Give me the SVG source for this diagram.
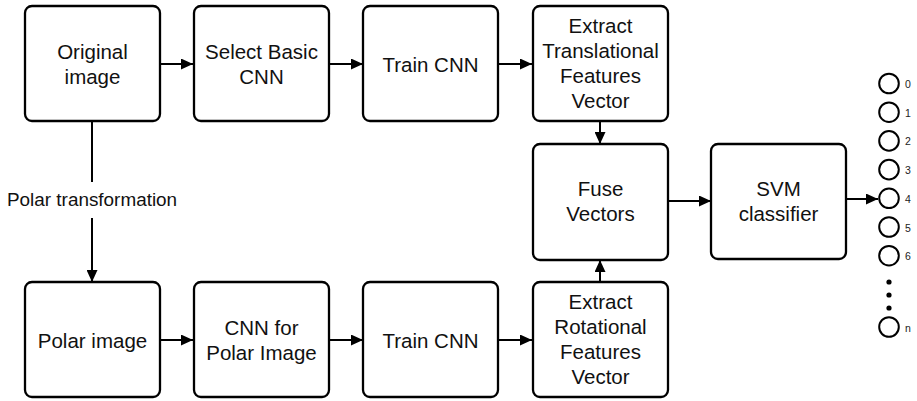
<svg xmlns="http://www.w3.org/2000/svg" width="917" height="401" viewBox="0 0 917 401">
<defs>
<marker id="ah" viewBox="0 0 12 11" refX="12" refY="5.5" markerWidth="12" markerHeight="11" markerUnits="userSpaceOnUse" orient="auto">
<path d="M0,0 L12,5.5 L0,11 Z" fill="#000"/>
</marker>
<style>
.box{fill:#fff;stroke:#000;stroke-width:2.3}
.t{font-family:"Liberation Sans",Arial,Helvetica,sans-serif;font-size:20.5px;fill:#111;text-anchor:middle}
.lbl{font-family:"Liberation Sans",Arial,Helvetica,sans-serif;font-size:18.9px;fill:#111}
.num{font-family:"Liberation Sans",Arial,Helvetica,sans-serif;font-size:10.5px;fill:#222}
.c{fill:#fff;stroke:#000;stroke-width:2}
.ln{stroke:#000;stroke-width:2;fill:none}
</style>
</defs>
<rect width="917" height="401" fill="#fff"/>
<g id="connectors">
<line class="ln" x1="160" y1="64" x2="193" y2="64" marker-end="url(#ah)"/>
<line class="ln" x1="329" y1="64" x2="363" y2="64" marker-end="url(#ah)"/>
<line class="ln" x1="498" y1="64" x2="532" y2="64" marker-end="url(#ah)"/>
<line class="ln" x1="160" y1="340" x2="193" y2="340" marker-end="url(#ah)"/>
<line class="ln" x1="329" y1="340" x2="363" y2="340" marker-end="url(#ah)"/>
<line class="ln" x1="498" y1="340" x2="532" y2="340" marker-end="url(#ah)"/>
<line class="ln" x1="600" y1="121" x2="600" y2="144" marker-end="url(#ah)"/>
<line class="ln" x1="600" y1="282" x2="600" y2="260" marker-end="url(#ah)"/>
<line class="ln" x1="668" y1="201" x2="711" y2="201" marker-end="url(#ah)"/>
<line class="ln" x1="846" y1="199" x2="878" y2="199" marker-end="url(#ah)"/>
<line class="ln" x1="92" y1="121" x2="92" y2="182"/>
<line class="ln" x1="92" y1="218" x2="92" y2="282" marker-end="url(#ah)"/>
<text class="lbl" x="7" y="206">Polar transformation</text>
</g>
<g id="original">
<rect class="box" x="25" y="6" width="135" height="115" rx="7"/>
<text class="t" x="92.5" y="59">Original</text>
<text class="t" x="92.5" y="84">image</text>
</g>
<g id="select">
<rect class="box" x="194" y="6" width="135" height="115" rx="7"/>
<text class="t" x="261.5" y="59">Select Basic</text>
<text class="t" x="261.5" y="84">CNN</text>
</g>
<g id="train1">
<rect class="box" x="363" y="6" width="135" height="115" rx="7"/>
<text class="t" x="430.5" y="71.5">Train CNN</text>
</g>
<g id="extractT">
<rect class="box" x="533" y="6" width="135" height="115" rx="7"/>
<text class="t" x="600.5" y="33">Extract</text>
<text class="t" x="600.5" y="58">Translational</text>
<text class="t" x="600.5" y="83">Features</text>
<text class="t" x="600.5" y="108">Vector</text>
</g>
<g id="fuse">
<rect class="box" x="533" y="144" width="135" height="116" rx="7"/>
<text class="t" x="600.5" y="196">Fuse</text>
<text class="t" x="600.5" y="221">Vectors</text>
</g>
<g id="svm">
<rect class="box" x="711" y="144" width="135" height="115" rx="7"/>
<text class="t" x="778.5" y="196">SVM</text>
<text class="t" x="778.5" y="221">classifier</text>
</g>
<g id="polar">
<rect class="box" x="25" y="282" width="135" height="115" rx="7"/>
<text class="t" x="92.5" y="347.5">Polar image</text>
</g>
<g id="cnnpolar">
<rect class="box" x="194" y="282" width="135" height="115" rx="7"/>
<text class="t" x="261.5" y="335">CNN for</text>
<text class="t" x="261.5" y="360">Polar Image</text>
</g>
<g id="train2">
<rect class="box" x="363" y="282" width="135" height="115" rx="7"/>
<text class="t" x="430.5" y="347.5">Train CNN</text>
</g>
<g id="extractR">
<rect class="box" x="533" y="282" width="135" height="115" rx="7"/>
<text class="t" x="600.5" y="309">Extract</text>
<text class="t" x="600.5" y="334">Rotational</text>
<text class="t" x="600.5" y="359">Features</text>
<text class="t" x="600.5" y="384">Vector</text>
</g>
<g id="outputs">
<circle class="c" cx="889" cy="83.5" r="9.8"/><text class="num" x="905" y="88">0</text>
<circle class="c" cx="889" cy="112.2" r="9.8"/><text class="num" x="905" y="116.7">1</text>
<circle class="c" cx="889" cy="140.9" r="9.8"/><text class="num" x="905" y="145.4">2</text>
<circle class="c" cx="889" cy="169.6" r="9.8"/><text class="num" x="905" y="174.1">3</text>
<circle class="c" cx="889" cy="198.3" r="9.8"/><text class="num" x="905" y="202.8">4</text>
<circle class="c" cx="889" cy="227" r="9.8"/><text class="num" x="905" y="231.5">5</text>
<circle class="c" cx="889" cy="255.7" r="9.8"/><text class="num" x="905" y="260.2">6</text>
<circle cx="889" cy="282" r="2.6" fill="#000"/>
<circle cx="889" cy="295" r="2.6" fill="#000"/>
<circle cx="889" cy="308" r="2.6" fill="#000"/>
<circle class="c" cx="889" cy="327" r="9.8"/><text class="num" x="905" y="331.5">n</text>
</g>
</svg>
